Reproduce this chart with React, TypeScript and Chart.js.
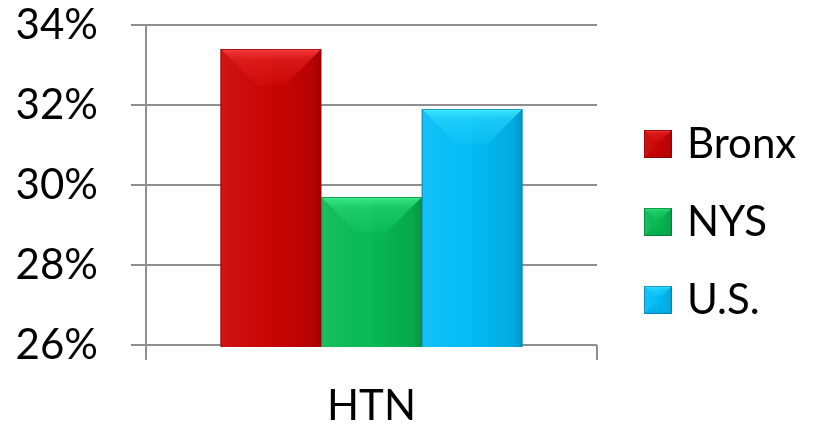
import React, { useEffect, useRef } from "react";
import { Chart, registerables } from "chart.js";

Chart.register(...registerables);

// ---- data ----
const categories = ["HTN"];
const seriesNames = ["Bronx", "NYS", "U.S."];
const bronxValues = [33.4];
const nysValues = [29.7];
const usValues = [31.9];
const yMin = 26;
const yMax = 34;
const yStep = 2;

// ---- styles ----
const palette = [
  { base: "#CA0303", light: "#FF4242", dark: "#A00000", border: "#8A0000" },
  { base: "#07B954", light: "#40F490", dark: "#02923D", border: "#067A34" },
  { base: "#03BCF7", light: "#48F0FF", dark: "#0090C8", border: "#0A7AAA" },
];
const FONT = "Lato, 'Open Sans', 'Liberation Sans', sans-serif";
const FONT_SIZE = 42;
const GRID = "#8F8F8F";

function drawBevel(
  ctx: CanvasRenderingContext2D,
  x0: number,
  y0: number,
  x1: number,
  y1: number,
  bev: number,
  c: { base: string; light: string; dark: string; border: string }
) {
  const w = x1 - x0;
  const h = y1 - y0;
  const b = Math.max(0, Math.min(bev, w / 2, h / 2));
  ctx.save();
  ctx.fillStyle = c.base;
  ctx.fillRect(x0, y0, w, h);
  const hg = ctx.createLinearGradient(x0, 0, x1, 0);
  hg.addColorStop(0, "rgba(255,255,255,0.03)");
  hg.addColorStop(0.5, "rgba(255,255,255,0.01)");
  hg.addColorStop(0.51, "rgba(0,0,0,0.02)");
  hg.addColorStop(1, "rgba(0,0,0,0.05)");
  ctx.fillStyle = hg;
  ctx.fillRect(x0, y0, w, h);

  const poly = (pts: number[][], style: any) => {
    ctx.beginPath();
    ctx.moveTo(pts[0][0], pts[0][1]);
    for (let i = 1; i < pts.length; i++) ctx.lineTo(pts[i][0], pts[i][1]);
    ctx.closePath();
    ctx.fillStyle = style;
    ctx.fill();
  };
  // left bevel
  const lg = ctx.createLinearGradient(x0, 0, x0 + b, 0);
  lg.addColorStop(0, "rgba(255,255,255,0.05)");
  lg.addColorStop(0.25, "rgba(255,255,255,0.03)");
  lg.addColorStop(1, "rgba(255,255,255,0.0)");
  poly([[x0, y0], [x0 + b, y0 + b], [x0 + b, y1 - b], [x0, y1]], lg);
  // right bevel
  const rg = ctx.createLinearGradient(x1 - b, 0, x1, 0);
  rg.addColorStop(0, "rgba(0,0,0,0.01)");
  rg.addColorStop(0.75, "rgba(0,0,0,0.05)");
  rg.addColorStop(1, "rgba(0,0,0,0.16)");
  poly([[x1, y0], [x1 - b, y0 + b], [x1 - b, y1 - b], [x1, y1]], rg);
  // top bevel
  const tg = ctx.createLinearGradient(0, y0, 0, y0 + b);
  tg.addColorStop(0, c.light);
  tg.addColorStop(0.08, c.light + "B0");
  tg.addColorStop(0.3, c.light + "50");
  tg.addColorStop(1, c.light + "14");
  poly([[x0, y0], [x1, y0], [x1 - b, y0 + b], [x0 + b, y0 + b]], tg);
  // bottom bevel
  const bg = ctx.createLinearGradient(0, y1 - b, 0, y1);
  bg.addColorStop(0, c.dark + "10");
  bg.addColorStop(0.8, c.dark + "50");
  bg.addColorStop(1, c.dark + "90");
  poly([[x0, y1], [x1, y1], [x1 - b, y1 - b], [x0 + b, y1 - b]], bg);
  // outline
  ctx.strokeStyle = c.border;
  ctx.globalAlpha = 0.7;
  ctx.lineWidth = 1;
  ctx.strokeRect(x0 + 0.5, y0 + 0.5, w - 1, h - 1);
  ctx.restore();
}

const bevelPlugin = {
  id: "bevelBars",
  afterDatasetsDraw(chart: any) {
    const ctx = chart.ctx as CanvasRenderingContext2D;
    const area = chart.chartArea;
    ctx.save();
    ctx.beginPath();
    ctx.rect(area.left, area.top, area.right - area.left, area.bottom - area.top + 2);
    ctx.clip();
    chart.data.datasets.forEach((ds: any, di: number) => {
      const meta = chart.getDatasetMeta(di);
      meta.data.forEach((el: any) => {
        const p = el.getProps(["x", "y", "base", "width"], true);
        const x0 = p.x - p.width / 2;
        const x1 = p.x + p.width / 2;
        const y0 = Math.min(p.y, p.base);
        const y1 = Math.max(p.y, p.base);
        drawBevel(ctx, x0, y0, x1, y1, 36, palette[di]);
      });
    });
    ctx.restore();
  },
};

const legendPlugin = {
  id: "customLegend",
  afterDraw(chart: any) {
    const ctx = chart.ctx as CanvasRenderingContext2D;
    const area = chart.chartArea;
    const markerX = area.right + 47;
    const textX = markerX + 43;
    const rowGap = 78;
    const firstY = area.top + 119;
    ctx.save();
    ctx.font = `${FONT_SIZE}px ${FONT}`;
    ctx.textBaseline = "middle";
    ctx.textAlign = "left";
    chart.data.datasets.forEach((ds: any, i: number) => {
      const cy = firstY + i * rowGap;
      drawBevel(ctx, markerX, cy - 14, markerX + 28, cy + 14, 11, palette[i]);
      ctx.fillStyle = "#000000";
      ctx.fillText(ds.label, textX, cy);
    });
    ctx.restore();
  },
};

export default function App() {
  const ref = useRef<HTMLCanvasElement | null>(null);

  useEffect(() => {
    if (!ref.current) return;
    const seriesValues = [bronxValues, nysValues, usValues];
    const chart = new Chart(ref.current, {
      type: "bar",
      data: {
        labels: categories,
        datasets: seriesNames.map((name, i) => ({
          label: name,
          data: seriesValues[i],
          backgroundColor: palette[i].base,
          borderWidth: 0,
          categoryPercentage: 0.669,
          barPercentage: 1,
        })),
      },
      options: {
        animation: false,
        responsive: true,
        maintainAspectRatio: false,
        devicePixelRatio: 1,
        layout: { padding: { top: 25, right: 220, left: 0, bottom: 0 } },
        plugins: {
          legend: { display: false },
          tooltip: { enabled: false },
        },
        scales: {
          x: {
            offset: true,
            grid: {
              display: true,
              drawOnChartArea: false,
              drawTicks: true,
              tickLength: 15,
              color: GRID,
              lineWidth: 2,
              offset: true,
            },
            border: { display: false },
            ticks: {
              color: "#000000",
              font: { family: FONT, size: FONT_SIZE, lineHeight: 1 },
              padding: 25,
            },
            afterFit: (scale: any) => {
              scale.height = 81;
              scale.paddingLeft = 0;
              scale.paddingRight = 0;
            },
          },
          y: {
            min: yMin,
            max: yMax,
            grid: {
              color: GRID,
              lineWidth: 2,
              drawTicks: true,
              tickLength: 15,
            },
            border: { display: true, color: GRID, width: 2 },
            ticks: {
              stepSize: yStep,
              color: "#000000",
              font: { family: FONT, size: FONT_SIZE, lineHeight: 1 },
              padding: 33,
              callback: (v: any) => `${v}%`,
            },
            afterFit: (scale: any) => {
              scale.width = 146;
              scale.paddingTop = 0;
              scale.paddingBottom = 0;
            },
          },
        },
      },
      plugins: [bevelPlugin, legendPlugin],
    });
    return () => chart.destroy();
  }, []);

  return (
    <div style={{ position: "absolute", left: 0, top: 0, width: 817, height: 426, background: "#ffffff" }}>
      <canvas ref={ref} />
    </div>
  );
}
